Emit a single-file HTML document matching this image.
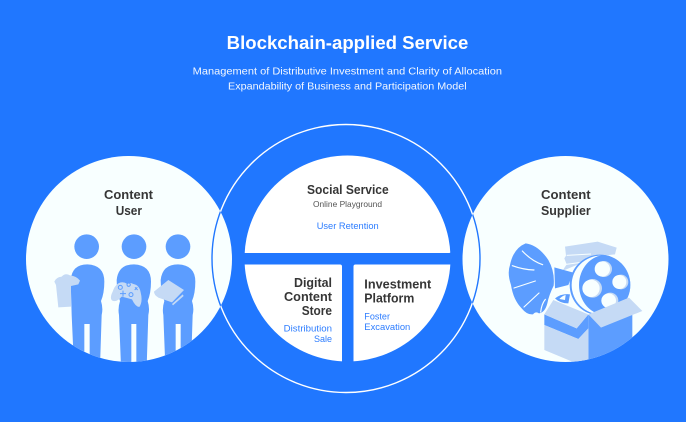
<!DOCTYPE html>
<html><head><meta charset="utf-8"><style>
html,body{margin:0;padding:0;background:#2077ff}
svg{display:block}
text{font-family:"Liberation Sans",sans-serif}
.t{font-weight:700;fill:#fff}
.s{fill:#f2f7ff;font-size:10.5px}
.h{font-weight:700;fill:#363636;font-size:13px}
.b{fill:#2d7dff;font-size:9.5px}
</style></head><body>
<svg width="686" height="422" viewBox="0 0 686 422" xmlns="http://www.w3.org/2000/svg">
<defs>
<clipPath id="mid"><circle cx="347.5" cy="258.5" r="103"/></clipPath>
<clipPath id="cl"><circle cx="237" cy="87" r="309"/></clipPath>
<clipPath id="cr"><circle cx="181.5" cy="72" r="309"/></clipPath>
<clipPath id="lensL"><circle cx="129" cy="259" r="103"/></clipPath>
<clipPath id="lensR"><circle cx="565.5" cy="259" r="103"/></clipPath>
<clipPath id="reel"><circle cx="285" cy="150" r="91"/></clipPath>
</defs>
<rect width="686" height="422" fill="#2077ff"/>
<text class="t" x="226.7" y="49" font-size="18" textLength="241.6" lengthAdjust="spacingAndGlyphs">Blockchain-applied Service</text>
<text class="s" x="192.7" y="74.5" textLength="309.3" lengthAdjust="spacingAndGlyphs">Management of Distributive Investment and Clarity of Allocation</text>
<text class="s" x="228" y="89.5" textLength="238.7" lengthAdjust="spacingAndGlyphs">Expandability of Business and Participation Model</text>

<circle cx="346" cy="258.5" r="134" fill="none" stroke="#fff" stroke-width="1.4"/>
<circle cx="129" cy="259" r="103" fill="#f8ffff"/>
<circle cx="565.5" cy="259" r="103" fill="#f8ffff"/>
<g clip-path="url(#lensL)"><circle cx="346" cy="258.5" r="134" fill="none" stroke="#2077ff" stroke-width="1.4"/></g>
<g clip-path="url(#lensR)"><circle cx="346" cy="258.5" r="134" fill="none" stroke="#2077ff" stroke-width="1.4"/></g>

<g clip-path="url(#mid)" fill="#fff">
<rect x="240" y="150" width="211" height="103" rx="2"/>
<rect x="240" y="264.5" width="102" height="102" rx="2"/>
<rect x="353.5" y="264.5" width="102" height="102" rx="2"/>
</g>

<text class="h" x="307" y="194" textLength="81.7" lengthAdjust="spacingAndGlyphs">Social Service</text>
<text x="313" y="207" font-size="8.5" fill="#555" textLength="69" lengthAdjust="spacingAndGlyphs">Online Playground</text>
<text class="b" x="316.7" y="229" textLength="62" lengthAdjust="spacingAndGlyphs">User Retention</text>

<text class="h" x="294" y="287" textLength="38" lengthAdjust="spacingAndGlyphs">Digital</text>
<text class="h" x="284" y="301" textLength="48" lengthAdjust="spacingAndGlyphs">Content</text>
<text class="h" x="301.7" y="315" textLength="30.3" lengthAdjust="spacingAndGlyphs">Store</text>
<text class="b" x="283.7" y="331.5" textLength="48.3" lengthAdjust="spacingAndGlyphs">Distribution</text>
<text class="b" x="314" y="342" textLength="18" lengthAdjust="spacingAndGlyphs">Sale</text>

<text class="h" x="364.3" y="288.7" textLength="67" lengthAdjust="spacingAndGlyphs">Investment</text>
<text class="h" x="364.3" y="302.7" textLength="50" lengthAdjust="spacingAndGlyphs">Platform</text>
<text class="b" x="364.3" y="319.5" textLength="25.7" lengthAdjust="spacingAndGlyphs">Foster</text>
<text class="b" x="364.3" y="330" textLength="46" lengthAdjust="spacingAndGlyphs">Excavation</text>

<text class="h" x="104" y="199" textLength="49" lengthAdjust="spacingAndGlyphs">Content</text>
<text class="h" x="115.7" y="215" textLength="26.3" lengthAdjust="spacingAndGlyphs">User</text>
<text class="h" x="541" y="199" textLength="49.7" lengthAdjust="spacingAndGlyphs">Content</text>
<text class="h" x="541" y="215" textLength="49.7" lengthAdjust="spacingAndGlyphs">Supplier</text>

<!-- people -->
<g transform="translate(50 230) scale(.33333)">
<g clip-path="url(#cl)" fill="#5c9dff">
<circle cx="110" cy="50" r="37"/><circle cx="252" cy="50" r="37"/><circle cx="384" cy="50" r="37"/>
<path d="M62 150Q66 103 112 103Q163 105 163 155Q163 190 153 213Q160 235 155 255L150 410L119 410L119 282L103 282L103 410L72 410L65 255L62 150Z"/>
<path d="M200 150Q205 103 252 103Q303 105 303 155Q303 190 293 213Q300 235 295 255L290 410L259 410L259 282L244 282L244 410L213 410L207 255Q203 235 210 213Q200 185 200 150Z"/>
<path d="M332 150Q337 103 384 103Q436 105 436 155Q436 190 426 213Q433 235 428 255L423 410L392 410L392 282L377 282L377 410L346 410L340 255Q336 235 343 213Q332 185 332 150Z"/>
</g>
<g fill="#c5daf5">
<path d="M13 155Q18 142 35 140Q45 128 60 136Q80 138 90 152L85 163L63 168L63 230L25 232L18 165Z"/>
<path d="M205 160Q218 153 232 162Q240 156 250 162Q268 165 272 187Q279 215 268 231Q256 230 246 208L215 200Q200 218 187 212Q178 205 188 185Q193 168 205 160Z"/>
<path d="M312 185L355 150L402 180L366 217L325 203Q312 195 312 185ZM366 222L398 193L401 198L369 226Z"/>
</g>
<g fill="none" stroke="#5c9dff" stroke-width="3">
<circle cx="211" cy="172" r="6"/><circle cx="243" cy="194" r="6"/><circle cx="236" cy="164" r="5"/>
<path d="M219 182v18M210 191h18M255 172l8 8M262 172l-8 8"/>
</g>
</g>

<!-- supplier illustration -->
<g transform="translate(505 235) scale(.33333)">
<g clip-path="url(#cr)">
<!-- books -->
<path fill="#c5daf5" d="M180 35L278 20L335 38L330 58L265 65L215 90L172 108L185 88L178 70L183 62Z"/>
<path fill="none" stroke="#f8ffff" stroke-width="3" d="M185 61L258 57M183 88L228 82"/>
<!-- horn connector -->
<path fill="#5c9dff" d="M148 97L205 113L190 150L150 160Z"/>
<path fill="#5c9dff" d="M150 190Q170 175 195 178L190 205Q165 205 150 190Z"/>
<path fill="#f8ffff" d="M163 192Q172 182 182 180L180 195Z"/>
<!-- horn -->
<path fill="#5c9dff" d="M62 25Q100 30 130 75Q150 110 146 152Q132 180 127 205Q120 232 102 235Q92 228 84 238Q66 240 50 220Q25 195 18 150Q6 115 15 90Q25 40 62 25Z"/>
<path fill="none" stroke="#f8ffff" stroke-width="3.5" stroke-linecap="round" d="M52 48Q80 78 113 89M22 92Q55 104 87 105M27 159L91 138M57 216L102 174M107 231Q110 206 121 193"/>
<!-- reel -->
<circle cx="285" cy="150" r="91" fill="#5c9dff"/>
<circle cx="288" cy="150" r="88" fill="#f8ffff"/>
<g clip-path="url(#reel)"><ellipse cx="302" cy="150" rx="80" ry="90" fill="#5c9dff"/></g>
<circle cx="297" cy="102" r="24" fill="#c5daf5"/><circle cx="292" cy="102" r="23" fill="#f8ffff"/>
<circle cx="348" cy="141" r="22" fill="#c5daf5"/><circle cx="343" cy="141" r="21" fill="#f8ffff"/>
<circle cx="263" cy="160" r="28" fill="#c5daf5"/><circle cx="258" cy="160" r="26" fill="#f8ffff"/>
<circle cx="316" cy="197" r="24" fill="#c5daf5"/><circle cx="311" cy="197" r="22" fill="#f8ffff"/>
<!-- box -->
<path fill="#5c9dff" d="M250 240L382 236V400H250Z"/>
<path fill="#5c9dff" d="M118 238L215 280L250 238V280L220 312L118 270Z"/>
<path fill="#c5daf5" d="M118 270L220 312L250 280V400L118 345Z"/>
<path fill="#c5daf5" d="M145 195L250 238L215 280L118 238Z"/>
<path fill="#c5daf5" d="M250 238L372 188L412 228L288 278Z"/>
</g>
</g>
</svg>
</body></html>
